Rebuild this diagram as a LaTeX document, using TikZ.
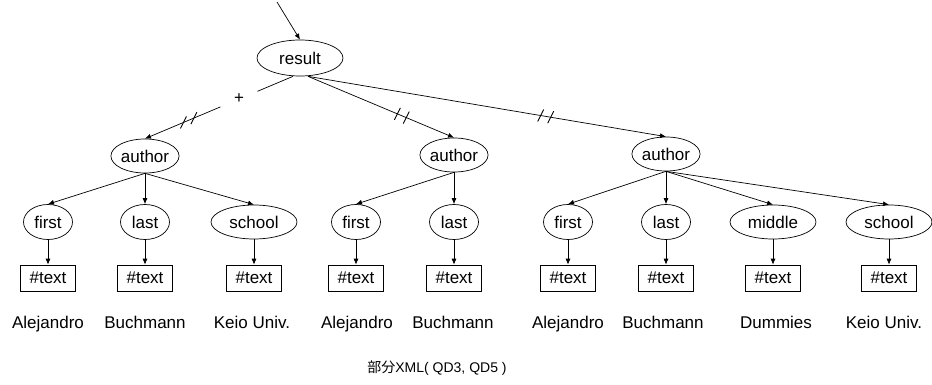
\documentclass[tikz,border=0pt]{standalone}
\usepackage{fontspec}
\setmainfont{Liberation Sans}
\newfontfamily\cjk{Noto Sans CJK JP}
\usetikzlibrary{shapes.geometric,arrows.meta,calc}

\begin{document}
\begin{tikzpicture}[x=1pt,y=-1pt,
  font=\fontsize{17}{20}\selectfont,
  elem/.style={ellipse,draw,line width=0.7pt,inner sep=0pt,minimum height=35pt},
  narrowell/.style={elem,minimum width=49pt},
  midell/.style={elem,minimum width=68pt,minimum height=34pt},
  wideell/.style={elem,minimum width=86pt,minimum height=34pt},
  txtbox/.style={rectangle,draw,line width=0.7pt,inner sep=0pt,minimum width=55pt,minimum height=26pt},
  val/.style={inner sep=0pt,anchor=base},
  link/.style={line width=0.7pt},
  arr/.style={link,-{Latex[length=6pt,width=5pt]}},
  slash/.style={line width=0.9pt}]

\useasboundingbox (0,0) rectangle (932,385);

% root element
\node[wideell,minimum height=36pt] (result) at (300,58) {result};

% author elements
\node[midell] (au1) at (145,156) {author};
\node[midell] (au2) at (454,155) {author};
\node[midell] (au3) at (666,154) {author};

% child elements
\node[narrowell] (fi1) at (48,222)  {first};
\node[narrowell] (la1) at (145,222) {last};
\node[wideell]   (sc1) at (254,222) {school};
\node[narrowell] (fi2) at (356,222) {first};
\node[narrowell] (la2) at (454,222) {last};
\node[narrowell] (fi3) at (568,222) {first};
\node[narrowell] (la3) at (666,222) {last};
\node[wideell]   (mi3) at (773,222) {middle};
\node[wideell]   (sc3) at (889,222) {school};

% text nodes
\foreach \e/\x in {fi1/48,la1/145,sc1/254,fi2/356,la2/454,fi3/568,la3/666,mi3/773,sc3/889}{
  \node[txtbox] (t\e) at (\x,278) {\#text};
  \draw[arr] (\e.south) -- (t\e.north);
}

% text values
\node[val] (v1) at (48,328)  {Alejandro};
\node[val] (v2) at (145,328) {Buchmann};
\node[val] (v3) at (252,328) {Keio Univ.};
\node[val] (v4) at (357,328) {Alejandro};
\node[val] (v5) at (453,328) {Buchmann};
\node[val] (v6) at (568,328) {Alejandro};
\node[val] (v7) at (663,328) {Buchmann};
\node[val] (v8) at (776,328) {Dummies};
\node[val] (v9) at (884,328) {Keio Univ.};

% caption
\node[font=\fontsize{14}{16}\selectfont] (cap) at (437,368) {{\cjk 部分}XML( QD3, QD5 )};

% incoming edge
\coordinate (src) at (277,2);
\draw[arr] (src) -- (result.north);

% edges from the root
\coordinate (rl) at ([xshift=-7pt]result.south);
\coordinate (rr) at ([xshift=8pt]result.south);

\draw[link] (rl) -- ($(rl)!0.24!(au1.north)$);
\draw[arr] ($(rl)!0.49!(au1.north)$) -- (au1.north);
\node[inner sep=0pt] (plus) at ($(rl)!0.365!(au1.north)$) {+};
\foreach \p in {0.67,0.74}
  \draw[slash] ($(rl)!\p!(au1.north)$) ++(-3,6) -- ++(6,-12);

\draw[arr] (rr) -- (au2.north);
\foreach \p in {0.612,0.673}
  \draw[slash] ($(rr)!\p!(au2.north)$) ++(-3,6) -- ++(6,-12);

\draw[arr] (rr) -- (au3.north);
\foreach \p in {0.65,0.678}
  \draw[slash] ($(rr)!\p!(au3.north)$) ++(-3,6) -- ++(6,-12);

% edges from authors to children
\foreach \a/\c in {au1/fi1,au1/la1,au1/sc1,au2/fi2,au2/la2,au3/fi3,au3/la3,au3/mi3,au3/sc3}
  \draw[arr] (\a.south) -- (\c.north);

\end{tikzpicture}
\end{document}
